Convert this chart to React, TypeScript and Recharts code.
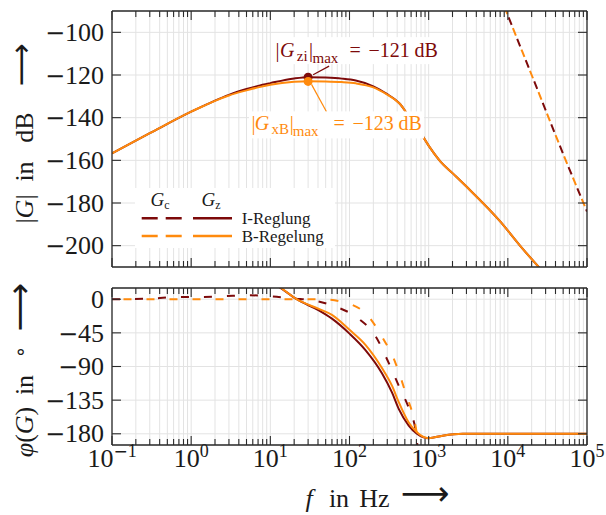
import React from 'react';
import { LineChart, Line, XAxis, YAxis, CartesianGrid, ReferenceDot, Legend } from 'recharts';

const FONT = '"Liberation Serif", "DejaVu Serif", serif';
const ARROWFONT = '"DejaVu Sans", sans-serif';
const RED = '#7d0a0a';
const ORANGE = '#ff8a0d';
const GRID = '#e3e3e3';
const FRAME = '#2a2a2a';
const TEXT = '#1a1a1a';
const MINUS = '\u2212';

// ---- axes ----
const decades = [0.1, 1, 10, 100, 1000, 10000, 100000];
const minorMultipliers = [2, 3, 4, 5, 6, 7, 8, 9];
const freqTicks = decades.flatMap((d, i) =>
  i < decades.length - 1 ? [d, ...minorMultipliers.map((m) => +(d * m).toPrecision(3))] : [d]
);
const freqDomain = [0.1, 100000];
const magTicks = [-200, -180, -160, -140, -120, -100];
const magDomain = [-210, -90];
const phaseTicks = [-180, -135, -90, -45, 0];
const phaseDomain = [-195, 15];

// ---- magnitude |G| in dB ----
const magFreqZ = [0.1, 0.3, 1, 1.5, 2, 3, 5, 7, 10, 20, 30, 50, 80, 120, 200, 300, 380, 435, 530, 650, 780, 1050, 1410, 2000, 3000, 8000, 14500, 25000, 30000];
const magGzI = [-156.7, -147.3, -137.2, -134.1, -132, -129.3, -126.6, -125.1, -123.8, -121.6, -121, -121.2, -121.7, -122.6, -125.3, -129, -131.6, -133.6, -138, -142.5, -146.8, -154.3, -160.6, -166, -172.3, -188.6, -200.3, -210.3, -213.5];
const magGzB = [-156.7, -147.3, -137.2, -134.2, -132.1, -129.6, -127.2, -125.8, -124.6, -123.2, -122.9, -123, -123.3, -123.9, -125.8, -129.2, -131.7, -133.6, -138, -142.5, -146.8, -154.3, -160.6, -166, -172.3, -188.6, -200.3, -210.3, -213.5];
const magFreqC = [8000, 9500, 20000, 50000, 100000];
const magGcI = [-83, -90, -120, -157, -184];
const magGcB = [-83, -90, -120, -157, -184];

// maxima
const maxFreq = 30;
const maxGzI = -121;
const maxGxB = -123;

// ---- phase in degrees ----
const phFreqZ = [10, 13.3, 21.5, 41, 60, 100, 159, 257, 345, 420, 560, 710, 1000, 1500, 2700, 10000, 100000];
const phGzI = [24, 15.5, 0, -15, -26, -46, -68, -99, -125, -147, -169, -180, -186, -182.5, -180, -180, -180];
const phGzB = [25, 16, 0, -13, -21, -41, -61, -92, -116, -138, -165, -178, -186, -182.5, -180, -180, -180];
const phFreqCI = [0.1, 0.33, 0.63, 1.2, 2.6, 5, 10, 19.5, 37, 65, 130, 215, 300, 420, 590, 680, 760];
const phGcI = [0, 1, 3, 3, 4, 5.3, 4, 1, -2, -9.5, -26, -50, -81, -116, -152, -174, -220];
const phFreqCB = [0.1, 10, 43, 80, 160, 257, 380, 510, 680, 800];
const phGcB = [0, 0, 0, -3.5, -19, -50, -85, -125, -169, -215];

const toPts = (fs: number[], vs: number[]) => fs.map((f, i) => ({ f, y: vs[i] }));

const isMajor = (v: number) => {
  const l = Math.log10(v);
  return Math.abs(l - Math.round(l)) < 1e-6;
};

const makeXTick = (side: 'top' | 'bottom', labels: boolean) => (p: any) => {
  const { x, y, payload } = p;
  const v = payload.value;
  const major = isMajor(v);
  const len = major ? 9 : 6;
  const dir = side === 'bottom' ? -1 : 1;
  const e = Math.round(Math.log10(v));
  return (
    <g>
      <line x1={x} y1={y} x2={x} y2={y + dir * len} stroke={FRAME} strokeWidth={1.1} />
      {labels && major && (
        <text x={x} y={y + 22} textAnchor="middle" fontFamily={FONT} fontSize={26} fill={TEXT}>
          10
          {e < 0 ? (
            <tspan dy={-10} fontSize={17} fontFamily={ARROWFONT}>{MINUS}</tspan>
          ) : null}
          <tspan dy={e < 0 ? 0 : -10} fontSize={18}>{`${Math.abs(e)}`}</tspan>
        </text>
      )}
    </g>
  );
};

const makeYTick = (side: 'left' | 'right', labels: boolean) => (p: any) => {
  const { x, y, payload } = p;
  const v = payload.value;
  const dir = side === 'left' ? 1 : -1;
  return (
    <g>
      <line x1={x} y1={y} x2={x + dir * 9} y2={y} stroke={FRAME} strokeWidth={1.1} />
      {labels && (
        <text x={x - 8} y={y + 8.7} textAnchor="end" fontFamily={FONT} fontSize={26} fill={TEXT}>
          {v < 0 ? <tspan fontFamily={ARROWFONT} fontSize={24}>{MINUS}</tspan> : null}
          <tspan>{`${Math.abs(v)}`}</tspan>
        </text>
      )}
    </g>
  );
};

const axisLine = { stroke: FRAME, strokeWidth: 1.3 };

const RotText = ({ x, y, children, size = 26, family = FONT }: any) => (
  <text transform={`translate(${x},${y}) rotate(-90)`} textAnchor="middle" fontFamily={family} fontSize={size} fill={TEXT}>
    {children}
  </text>
);

const magYLabel = () => (
  <g>
    <RotText x={33} y={209}>|<tspan fontStyle="italic">G</tspan>|</RotText>
    <RotText x={33} y={171.5}>in</RotText>
    <RotText x={33} y={127.5}>dB</RotText>
    <RotText x={31} y={65} size={30} family={ARROWFONT}>{'\u27F6'}</RotText>
  </g>
);

const phaseYLabel = () => (
  <g>
    <RotText x={33} y={432 - 270}>
      <tspan fontStyle="italic">{'\u03C6'}</tspan>(<tspan fontStyle="italic">G</tspan>)
    </RotText>
    <RotText x={33} y={385 - 270}>in</RotText>
    <RotText x={27} y={352 - 270} size={20} family={ARROWFONT}>{'\u2218'}</RotText>
    <RotText x={31} y={307 - 270} size={34} family={ARROWFONT}>{'\u27F6'}</RotText>
  </g>
);

const freqXLabel = () => (
  <g fontFamily={FONT} fontSize={26} fill={TEXT}>
    <text x={309} y={507 - 270} textAnchor="middle" fontStyle="italic">f</text>
    <text x={339} y={507 - 270} textAnchor="middle">in</text>
    <text x={374.5} y={507 - 270} textAnchor="middle">Hz</text>
    <text x={425} y={505 - 270} textAnchor="middle" fontFamily={ARROWFONT} fontSize={34}>{'\u27F6'}</text>
  </g>
);

const Anno = ({ s, base, color, sub, value, pos }: any) => (
  <text fontFamily={FONT} fontSize={20} fill={color}>
    <tspan x={s} y={base}>|</tspan>
    <tspan x={s + pos[0]} y={base} fontStyle="italic">G</tspan>
    <tspan x={s + pos[1]} y={base + 3.5} fontSize={15}>{sub}</tspan>
    <tspan x={s + pos[2]} y={base}>|</tspan>
    <tspan x={s + pos[3]} y={base + 6} fontSize={15}>max</tspan>
    <tspan x={s + pos[4]} y={base}>=</tspan>
    <tspan x={s + pos[5]} y={base}>{value}</tspan>
    <tspan x={s + pos[6]} y={base}>dB</tspan>
  </text>
);

const redAnno = (p: any) => {
  const vb = p.viewBox;
  const cx = vb.x + vb.width / 2;
  const cy = vb.y + vb.height / 2;
  const s = cx - 32.6;
  return (
    <g>
      <rect x={cx - 35} y={cy - 40} width={171} height={27} fill="#ffffff" />
      <line x1={cx + 5} y1={cy - 2.4} x2={cx + 21} y2={cy - 11} stroke={RED} strokeWidth={1.2} />
      <Anno s={s} base={cy - 20} color={RED} sub="zi" value={`${MINUS}121`} pos={[4.5, 21.3, 33.5, 37, 74, 93, 139]} />
    </g>
  );
};

const orangeAnno = (p: any) => {
  const vb = p.viewBox;
  const cx = vb.x + vb.width / 2;
  const cy = vb.y + vb.height / 2;
  const s = cx - 56.6;
  return (
    <g>
      <line x1={cx + 3.4} y1={cy + 3} x2={cx + 18.4} y2={cy + 30.4} stroke={ORANGE} strokeWidth={1.2} />
      <rect x={s - 2.5} y={cy + 30} width={175} height={27} fill="#ffffff" />
      <Anno s={s} base={cy + 49} color={ORANGE} sub="xB" value={`${MINUS}123`} pos={[3.3, 20, 38.3, 41.3, 82, 101, 147]} />
    </g>
  );
};

const LegendBox = () => (
  <svg width={200} height={60} style={{ display: 'block' }}>
    <rect x={0} y={0} width={200} height={60} fill="#ffffff" />
    <text x={15.5} y={18} fontFamily={FONT} fontSize={19} fill={TEXT}>
      <tspan fontStyle="italic">G</tspan>
      <tspan fontSize={12} dy={3}>c</tspan>
    </text>
    <text x={66.5} y={18} fontFamily={FONT} fontSize={19} fill={TEXT}>
      <tspan fontStyle="italic">G</tspan>
      <tspan fontSize={12} dy={3}>z</tspan>
    </text>
    <line x1={6.7} x2={46.7} y1={30.3} y2={30.3} stroke={RED} strokeWidth={2.4} strokeDasharray="16 8" />
    <line x1={58} x2={97} y1={30.3} y2={30.3} stroke={RED} strokeWidth={2.4} />
    <text x={106.7} y={36} fontFamily={FONT} fontSize={17} fill={TEXT}>I-Reglung</text>
    <line x1={6.7} x2={46.7} y1={48} y2={48} stroke={ORANGE} strokeWidth={2.4} strokeDasharray="16 8" />
    <line x1={58} x2={97} y1={48} y2={48} stroke={ORANGE} strokeWidth={2.4} />
    <text x={106.7} y={54} fontFamily={FONT} fontSize={17} fill={TEXT}>B-Regelung</text>
  </svg>
);

const xAxisCommon = {
  type: 'number' as const,
  scale: 'log' as const,
  dataKey: 'f',
  domain: freqDomain,
  ticks: freqTicks,
  interval: 0,
  allowDataOverflow: true,
  tickLine: false,
  tickSize: 0,
  tickMargin: 0,
  axisLine,
};

const lineProps = { dataKey: 'y', type: 'monotone' as const, strokeWidth: 2, dot: false, activeDot: false, isAnimationActive: false, xAxisId: 'b', yAxisId: 'l' };

export default function App() {
  return (
    <div style={{ position: 'absolute', left: 0, top: 0, width: 606, height: 515, background: '#fff' }}>
      <div style={{ position: 'absolute', left: 0, top: 0 }}>
        <LineChart width={606} height={280} margin={{ top: 0, right: 0, bottom: 0, left: 0 }}>
          <CartesianGrid xAxisId="b" yAxisId="l" stroke={GRID} strokeWidth={1} />
          <XAxis {...xAxisCommon} xAxisId="b" orientation="bottom" height={13} tick={makeXTick('bottom', false)} />
          <XAxis {...xAxisCommon} xAxisId="t" orientation="top" height={11} tick={makeXTick('top', false)} />
          <YAxis
            yAxisId="l"
            type="number"
            domain={magDomain}
            ticks={magTicks}
            interval={0}
            allowDataOverflow
            width={112}
            tickLine={false}
            tickSize={0}
            tickMargin={0}
            axisLine={axisLine}
            tick={makeYTick('left', true)}
            label={magYLabel}
          />
          <YAxis
            yAxisId="r"
            orientation="right"
            type="number"
            domain={magDomain}
            ticks={magTicks}
            interval={0}
            allowDataOverflow
            width={19}
            tickLine={false}
            tickSize={0}
            tickMargin={0}
            axisLine={axisLine}
            tick={makeYTick('right', false)}
          />
          <Line {...lineProps} data={toPts(magFreqC, magGcI)} stroke={RED} strokeDasharray="8 15" />
          <Line {...lineProps} data={toPts(magFreqC, magGcB)} stroke={ORANGE} strokeDasharray="8 15" strokeDashoffset={11.5} />
          <Line {...lineProps} data={toPts(magFreqZ, magGzI)} stroke={RED} />
          <Line {...lineProps} data={toPts(magFreqZ, magGzB)} stroke={ORANGE} />
          <ReferenceDot xAxisId="b" yAxisId="l" x={maxFreq} y={maxGzI} r={4.5} fill={RED} stroke="none" ifOverflow="visible" label={redAnno} />
          <ReferenceDot xAxisId="b" yAxisId="l" x={maxFreq} y={maxGxB} r={4.5} fill={ORANGE} stroke="none" ifOverflow="visible" label={orangeAnno} />
          <Legend
            layout="vertical"
            verticalAlign="middle"
            align="center"
            wrapperStyle={{ left: 135, top: 188, width: 200, height: 60 }}
            content={() => <LegendBox />}
          />
        </LineChart>
      </div>
      <div style={{ position: 'absolute', left: 0, top: 270 }}>
        <LineChart width={606} height={245} margin={{ top: 0, right: 0, bottom: 0, left: 0 }}>
          <CartesianGrid xAxisId="b" yAxisId="l" stroke={GRID} strokeWidth={1} />
          <XAxis {...xAxisCommon} xAxisId="b" orientation="bottom" height={70} tick={makeXTick('bottom', true)} label={freqXLabel} />
          <XAxis {...xAxisCommon} xAxisId="t" orientation="top" height={18} tick={makeXTick('top', false)} />
          <YAxis
            yAxisId="l"
            type="number"
            domain={phaseDomain}
            ticks={phaseTicks}
            interval={0}
            allowDataOverflow
            width={112}
            tickLine={false}
            tickSize={0}
            tickMargin={0}
            axisLine={axisLine}
            tick={makeYTick('left', true)}
            label={phaseYLabel}
          />
          <YAxis
            yAxisId="r"
            orientation="right"
            type="number"
            domain={phaseDomain}
            ticks={phaseTicks}
            interval={0}
            allowDataOverflow
            width={19}
            tickLine={false}
            tickSize={0}
            tickMargin={0}
            axisLine={axisLine}
            tick={makeYTick('right', false)}
          />
          <Line {...lineProps} data={toPts(phFreqCI, phGcI)} stroke={RED} strokeDasharray="8 15" />
          <Line {...lineProps} data={toPts(phFreqCB, phGcB)} stroke={ORANGE} strokeDasharray="8 15" strokeDashoffset={11.5} />
          <Line {...lineProps} data={toPts(phFreqZ, phGzI)} stroke={RED} />
          <Line {...lineProps} data={toPts(phFreqZ, phGzB)} stroke={ORANGE} />
        </LineChart>
      </div>
    </div>
  );
}
